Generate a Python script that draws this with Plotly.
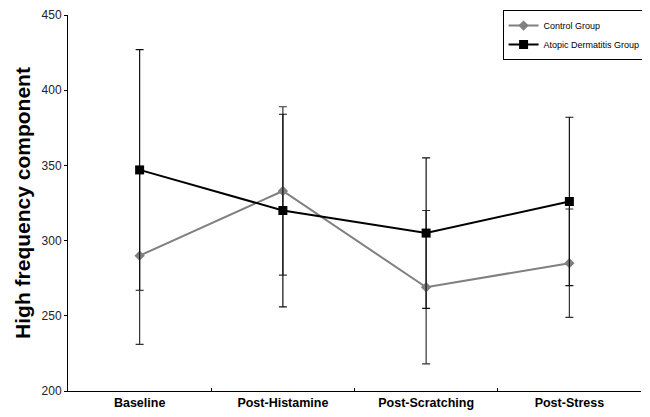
import plotly.graph_objects as go

categories = ["Baseline", "Post-Histamine", "Post-Scratching", "Post-Stress"]
control_mean = [290, 333, 269, 285]
control_err = [59, 56, 51, 36]
ad_mean = [347, 320, 305, 326]
ad_err = [80, 64, 50, 56]

FONT = "Arial, Liberation Sans, sans-serif"

fig = go.Figure()
fig.add_trace(go.Scatter(
    x=categories, y=control_mean, name="Control Group", mode="lines+markers",
    line=dict(color="#808080", width=2),
    marker=dict(symbol="diamond", size=8, color="#808080"),
    error_y=dict(type="data", array=control_err, visible=True, color="#333333", thickness=1.2, width=4),
))
fig.add_trace(go.Scatter(
    x=categories, y=ad_mean, name="Atopic Dermatitis Group", mode="lines+markers",
    line=dict(color="#000000", width=2),
    marker=dict(symbol="square", size=9, color="#000000"),
    error_y=dict(type="data", array=ad_err, visible=True, color="#111111", thickness=1.2, width=4),
))

# page has an 8px body margin, so the figure is sized/offset to compensate
fig.update_layout(
    width=642, height=409,
    margin=dict(l=60, r=9, t=7, b=26, autoexpand=False),
    paper_bgcolor="white", plot_bgcolor="white",
    font=dict(family=FONT, color="#000000"),
    showlegend=True,
    legend=dict(
        x=1.008, y=1.013, xanchor="right", yanchor="top",
        bgcolor="white", bordercolor="#000000", borderwidth=1,
        font=dict(size=9, family=FONT), tracegroupgap=0,
        itemwidth=30,
    ),
    xaxis=dict(
        type="category", range=[-0.5, 3.5],
        showline=True, linecolor="#000000", linewidth=1,
        ticks="inside", ticklen=3, tickson="boundaries", tickcolor="#000000",
        showgrid=False, zeroline=False,
        tickfont=dict(size=12.5, family=FONT, color="#000000"),
    ),
    yaxis=dict(
        range=[200, 450], dtick=50, tick0=200,
        showline=True, linecolor="#000000", linewidth=1,
        ticks="outside", ticklen=3, tickcolor="#000000",
        showgrid=False, zeroline=False,
        tickfont=dict(size=12, family=FONT, color="#222222"),
        title=dict(text="<b>High frequency component</b>", font=dict(size=21, family=FONT), standoff=5),
    ),
)
fig.update_xaxes(tickprefix="<b>", ticksuffix="</b>")

fig.write_html("out.html")
